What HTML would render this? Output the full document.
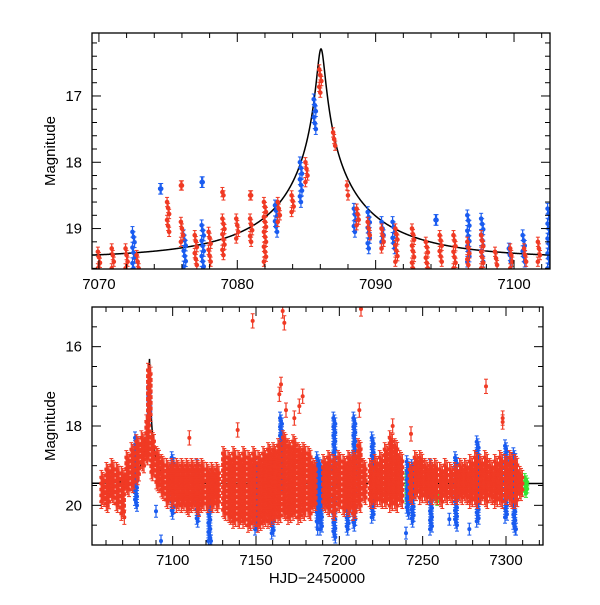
<!DOCTYPE html>
<html><head><meta charset="utf-8"><style>
html,body{margin:0;padding:0;background:#fff;}
svg text{font-family:"Liberation Sans",sans-serif;fill:#000;}
</style></head><body>
<svg id="chart" width="600" height="600" viewBox="0 0 600 600" xmlns="http://www.w3.org/2000/svg"></svg>
<script>
// ---- Top panel data (clusters: day, bright mag, faint mag) ----
const topRedDays = [7070,7071,7072,7072.8,7075,7076,7076,7077,7078,7079,7079,7080,7081,7081,7082,7083,7084,7085,7086,7087,7088,7088.7,7089.5,7090.5,7091.5,7092.7,7093.7,7094.7,7095.7,7096.7,7097.7,7098.7,7099.8,7100.8,7101.8];
const topRedLo   = [19.35,19.3,19.3,19.4,18.6,18.35,18.9,19.1,19.05,18.45,18.85,18.85,18.5,18.85,18.6,18.6,18.5,18.0,16.6,17.55,18.35,18.7,18.9,19.0,19.0,19.0,19.2,19.1,19.1,19.2,19.1,19.35,19.3,19.3,19.2];
const topRedHi   = [19.6,19.6,19.6,19.6,19.05,18.35,19.2,19.55,19.5,18.5,19.4,19.15,18.5,19.2,19.5,18.9,18.75,18.3,16.95,17.75,18.5,18.95,19.1,19.3,19.5,19.6,19.6,19.5,19.6,19.55,19.6,19.55,19.6,19.5,19.5];
const topBlueDays = [7072.5,7074.5,7076.2,7077.5,7077.5,7082.8,7084.6,7085.6,7088.5,7089.5,7090.5,7091.3,7094.4,7096.7,7097.7,7099.7,7100.7,7102.5];
const topBlueLo   = [19.05,18.4,19.1,18.3,18.95,18.65,18.0,17.05,18.7,18.75,18.9,18.9,18.87,18.8,18.85,19.3,19.1,18.7];
const topBlueHi   = [19.6,18.4,19.65,18.3,19.65,19.05,18.6,17.5,19.05,19.3,19.2,19.3,18.87,19.5,19.5,19.5,19.5,19.6];
// ---- Bottom panel data (bins: day, bright mag, faint mag) ----
const botRedDays = [7058,7061,7064,7067,7070,7073,7076,7079,7082,7085,7086,7088,7091,7094,7097,7100,7103,7106,7109,7112,7115,7118,7121,7124,7127,7131,7134,7137,7140,7143,7146,7149,7152,7155,7158,7161,7164,7167,7170,7173,7176,7179,7182,7185,7191,7194,7197,7200,7203,7206,7209,7212,7215,7219,7222,7225,7228,7231,7234,7237,7243,7246,7249,7252,7255,7258,7261,7264,7267,7270,7273,7276,7279,7282,7285,7288,7291,7294,7297,7300,7303,7306,7309];
const botRedLo = [19.3,19.1,19.0,19.1,19.2,18.8,18.6,18.4,18.3,17.9,16.6,18.3,18.7,18.9,19.0,19.0,19.0,19.0,19.0,19.0,19.0,19.0,19.1,19.1,19.1,18.7,18.8,18.7,18.8,18.7,18.8,18.7,18.8,18.7,18.6,18.6,18.5,18.3,18.5,18.4,18.6,18.6,18.7,19.0,18.9,18.8,18.9,18.8,18.9,18.8,18.8,18.5,19.0,19.0,18.9,18.8,18.6,18.3,18.5,18.8,19.1,18.8,18.8,19.0,19.0,19.0,19.1,19.0,19.1,19.1,19.0,19.0,18.9,18.8,18.9,18.8,19.0,18.9,18.8,18.9,18.8,18.9,19.2];
const botRedHi = [19.9,20.0,19.8,20.0,20.2,19.6,19.5,19.3,19.0,18.8,17.8,19.2,19.5,19.7,19.9,19.9,20.0,20.0,20.1,20.0,20.1,20.0,20.0,20.0,20.0,20.2,20.3,20.4,20.4,20.4,20.5,20.4,20.5,20.4,20.4,20.3,20.3,20.2,20.3,20.2,20.3,20.2,20.2,20.0,20.0,20.1,20.2,20.0,20.1,20.1,20.2,20.0,19.8,19.9,19.9,19.9,19.9,20.0,20.0,19.9,19.8,19.7,19.8,19.8,19.8,19.8,19.9,19.8,19.8,19.8,19.8,19.8,19.9,19.9,19.8,19.9,19.8,19.9,19.9,19.8,19.9,19.9,19.7];
const botBlueDays = [7078,7086,7100,7115,7122,7150,7160,7165,7187,7189,7197,7205,7209,7220,7241,7244,7255,7270,7283,7300,7305];
const botBlueLo = [18.3,17.0,18.8,19.0,19.3,19.0,18.9,17.8,18.8,19.0,17.8,19.2,17.8,18.3,18.9,19.0,19.0,18.8,18.4,18.5,18.7];
const botBlueHi = [20.0,17.8,20.2,20.4,20.9,20.6,20.7,19.5,20.4,20.6,20.8,20.6,20.5,20.3,20.2,20.4,20.6,20.5,20.4,20.3,20.6];
const botGreenDays = [7186,7241,7258,7312];
const botGreenLo = [19.3,19.2,19.6,19.3];
const botGreenHi = [19.7,19.9,19.9,19.7];
const outBlueDays = [7090,7093,7123,7187,7240,7255,7266,7278,7306];
const outBlueMags = [20.15,20.9,20.9,20.6,20.7,20.35,20.35,20.6,20.6];
const outRedDays = [7148,7166,7167,7213,7288,7298,7071,7243,7164,7165,7176,7178,7173,7139,7212,7232,7298,7110,7168];
const outRedMags = [15.35,15.1,15.4,15.05,17.0,17.8,20.3,18.2,17.2,16.95,17.5,17.25,17.8,18.1,17.6,18.0,17.9,18.3,17.6];
// model curve parameters (blended point-lens)
const t0 = 7086.05, tE = 9.7, u0 = 0.028, fs = 0.5, mBase = 19.45;

const NS = 'http://www.w3.org/2000/svg';
const svg = document.getElementById('chart');
function mk(tag, attrs, parent){ const e=document.createElementNS(NS,tag); for(const k in attrs) e.setAttribute(k,attrs[k]); (parent||svg).appendChild(e); return e; }

function makePanel(p){
  const g = mk('g',{});
  
  
  const xs = d => p.x0 + (d - p.d0) / (p.d1 - p.d0) * (p.x1 - p.x0);
  const ys = m => p.y0 + (m - p.m0) / (p.m1 - p.m0) * (p.y1 - p.y0);
  const cid = 'clip-' + p.name;
  const cp = mk('clipPath',{id:cid},g); mk('rect',{x:p.x0,y:p.y0,width:p.x1-p.x0,height:p.y1-p.y0},cp);
  const plot = mk('g',{'clip-path':'url(#'+cid+')'},g);
  
  
  let dpath='';
  for(let t=p.d0; t<=p.d1; t+= (p.d1-p.d0)/1200){
    const tau=(t-t0)/tE; const u=Math.sqrt(u0*u0+tau*tau);
    const A=(u*u+2)/(u*Math.sqrt(u*u+4)); const F=fs*A+(1-fs); const m=mBase-2.5*Math.log10(F);
    dpath += (dpath?'L':'M') + xs(t).toFixed(2) + ',' + ys(m).toFixed(2);
  }
  const curve = mk('path',{d:dpath,fill:'none',stroke:'#000','stroke-width':1.5},plot);
  
  
  function pt(d,m,err,col,r,par){
    const x=xs(d), y=ys(m), y1=ys(m-err), y2=ys(m+err);
    mk('line',{x1:x,y1:y1,x2:x,y2:y2,stroke:col,'stroke-width':1.2},par);
    mk('line',{x1:x-2,y1:y1,x2:x+2,y2:y1,stroke:col,'stroke-width':1},par);
    mk('line',{x1:x-2,y1:y2,x2:x+2,y2:y2,stroke:col,'stroke-width':1},par);
    mk('circle',{cx:x,cy:y,r:r,fill:col},par);
  }
  function clusters(days,lo,hi,col,name,nPer,spread,err,r){
    const cg = mk('g',{},plot);
    
    
    for(let i=0;i<days.length;i++){
      const n = Math.max(1, Math.round(nPer * Math.max(0.15,(hi[i]-lo[i]))));
      for(let k=0;k<n;k++){
        const f = n===1?0:k/(n-1);
        const dd = days[i] + spread*((k%3)-1)/2;
        pt(dd, lo[i] + (hi[i]-lo[i])*f, err, col, r, cg);
      }
    }
  }
  return {xs,ys,plot,pt,clusters,g};
}

const topP = makePanel({name:'top-panel',x0:92,x1:550,y0:33,y1:269,d0:7069.5,d1:7102.6,m0:16.05,m1:19.61});
topP.clusters(topBlueDays,topBlueLo,topBlueHi,'#1a5cf0','top-blue-points',14,0.15,0.08,2.3);
topP.clusters(topRedDays,topRedLo,topRedHi,'#f03a24','top-red-points',14,0.15,0.07,2.3);
const botP = makePanel({name:'bottom-panel',x0:92,x1:543,y0:307,y1:545,d0:7051.6,d1:7322.2,m0:15.0,m1:21.0});
botP.clusters(botGreenDays,botGreenLo,botGreenHi,'#33e633','bottom-green-points',20,1.5,0.1,2);
botP.clusters(botBlueDays,botBlueLo,botBlueHi,'#1a5cf0','bottom-blue-points',14,1.2,0.15,2);
for(let i=0;i<outBlueDays.length;i++) botP.pt(outBlueDays[i],outBlueMags[i],0.15,'#1a5cf0',2,botP.plot);
botP.clusters(botRedDays,botRedLo,botRedHi,'#f03a24','bottom-red-points',22,1.6,0.18,2);
for(let i=0;i<outRedDays.length;i++) botP.pt(outRedDays[i],outRedMags[i],0.18,'#f03a24',2,botP.plot);

function axes(P, x0,x1,y0,y1, d0,d1, m0,m1, xMaj,xMin,yMaj,yMin, xLabels, yLabels, name){
  const ag = mk('g',{});
  
  
  mk('rect',{x:x0,y:y0,width:x1-x0,height:y1-y0,fill:'none',stroke:'#000','stroke-width':1.3},ag);
  for(let d=Math.ceil(d0/xMin)*xMin; d<=d1+1e-9; d+=xMin){
    const x=P.xs(d); const maj=Math.abs(d/xMaj-Math.round(d/xMaj))<1e-6; const L=maj?9:5;
    mk('line',{x1:x,y1:y1,x2:x,y2:y1-L,stroke:'#000','stroke-width':1},ag);
    mk('line',{x1:x,y1:y0,x2:x,y2:y0+L,stroke:'#000','stroke-width':1},ag);
  }
  for(let m=Math.ceil(m0/yMin-1e-9)*yMin; m<=m1+1e-9; m+=yMin){
    const y=P.ys(m); const maj=Math.abs(m/yMaj-Math.round(m/yMaj))<1e-6; const L=maj?9:5;
    mk('line',{x1:x0,y1:y,x2:x0+L,y2:y,stroke:'#000','stroke-width':1},ag);
    mk('line',{x1:x1,y1:y,x2:x1-L,y2:y,stroke:'#000','stroke-width':1},ag);
  }
  xLabels.forEach(v=>{ const t=mk('text',{x:P.xs(v),y:y1+20,'text-anchor':'middle','font-size':15},ag); t.textContent=v;
      });
  yLabels.forEach(v=>{ const t=mk('text',{x:x0-10,y:P.ys(v)+5,'text-anchor':'end','font-size':15},ag); t.textContent=v;
      });
  const yt=mk('text',{x:0,y:0,'text-anchor':'middle','font-size':15,transform:'translate(55,'+((y0+y1)/2)+') rotate(-90)'},ag);
  yt.textContent='Magnitude';
   
}
const topXTicks = [7070,7080,7090,7100];
const topYTicks = [17,18,19];
const botXTicks = [7100,7150,7200,7250,7300];
const botYTicks = [16,18,20];
axes(topP,92,550,33,269,7069.5,7102.6,16.05,19.61,10,2,1,0.2,topXTicks,topYTicks,'top-axes');
axes(botP,92,543,307,545,7051.6,7322.2,15.0,21.0,50,10,2,0.5,botXTicks,botYTicks,'bottom-axes');
const xt = mk('text',{x:317,y:583,'text-anchor':'middle','font-size':15});
xt.textContent='HJD\u22122450000';


</script>
</body></html>
